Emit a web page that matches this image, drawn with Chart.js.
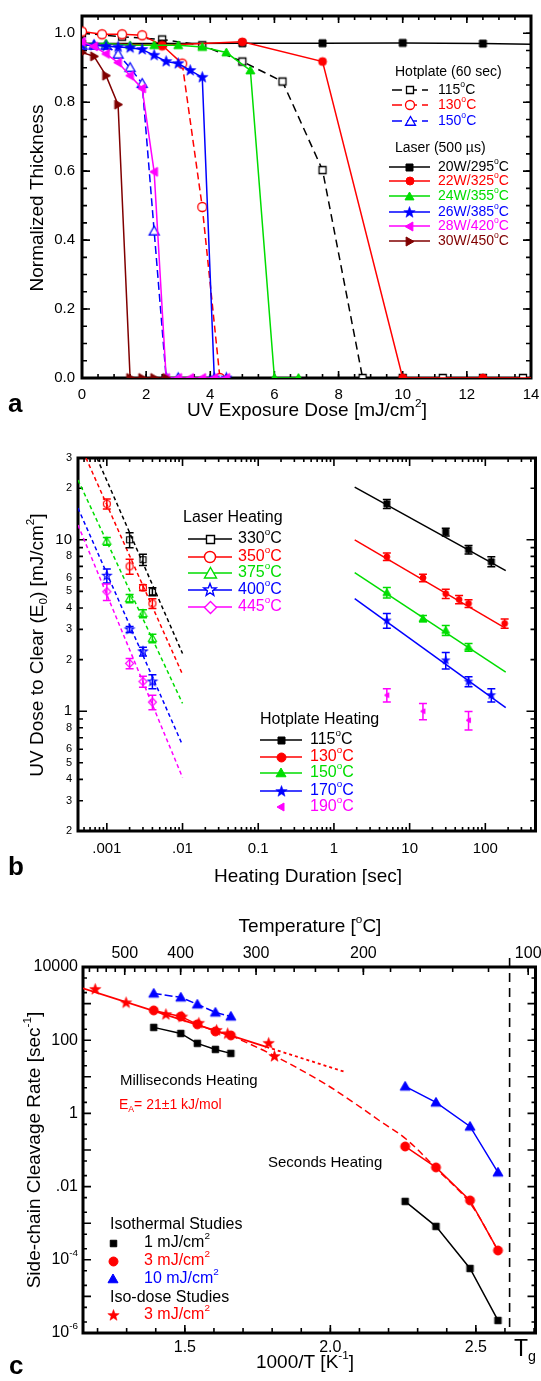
<!DOCTYPE html>
<html>
<head>
<meta charset="utf-8">
<title>Thickness, clearing dose and cleavage rate</title>
<script src="https://cdn.jsdelivr.net/npm/chart.js@4.4.1/dist/chart.umd.min.js"></script>
<style>
  html, body { margin: 0; padding: 0; background: #fff; }
  body { width: 541px; height: 1381px; position: relative; overflow: hidden; }
  canvas { position: absolute; left: 0; }
</style>
</head>
<body>
<canvas id="chartA" width="541" height="430" style="top:0px"></canvas>
<canvas id="chartB" width="541" height="455" style="top:430px"></canvas>
<canvas id="chartC" width="541" height="496" style="top:885px"></canvas>
<script>
// ---------- panel a : normalized thickness vs UV dose ----------
const hp115Dose = [0, 1.25, 2.5, 3.75, 5, 6.25, 7.5, 8.75, 10, 11.25, 12.5, 13.75];
const hp115Thick = [1.0, 0.99, 0.982, 0.965, 0.918, 0.86, 0.603, 0, 0, 0, 0, 0];
const hp130Dose = [0, 0.625, 1.25, 1.875, 2.5, 3.125, 3.75, 4.3];
const hp130Thick = [1.005, 0.997, 0.997, 0.994, 0.965, 0.912, 0.496, 0];
const hp150Dose = [0, 0.375, 0.75, 1.125, 1.5, 1.875, 2.25, 2.625, 3.0];
const hp150Thick = [0.965, 0.965, 0.965, 0.939, 0.9, 0.854, 0.426, 0, 0];
const l20Dose = [0, 2.5, 5, 7.5, 10, 12.5, 14];
const l20Thick = [0.97, 0.97, 0.971, 0.971, 0.972, 0.97, 0.968];
const l22Dose = [0, 2.5, 5, 7.5, 10, 12.5, 14];
const l22Thick = [0.97, 0.965, 0.975, 0.918, 0, 0, 0];
const l24Dose = [0, 0.75, 1.5, 2.25, 3, 3.75, 4.5, 5.25, 6, 6.75];
const l24Thick = [0.97, 0.97, 0.965, 0.965, 0.965, 0.96, 0.944, 0.892, 0, 0];
const l26Dose = [0, 0.375, 0.75, 1.125, 1.5, 1.875, 2.25, 2.625, 3.0, 3.375, 3.75, 4.125, 4.5];
const l26Thick = [0.965, 0.965, 0.962, 0.96, 0.958, 0.953, 0.936, 0.918, 0.912, 0.892, 0.872, 0, 0];
const l28Dose = [0, 0.375, 0.75, 1.125, 1.5, 1.875, 2.25, 2.625, 3.0, 3.375, 3.75, 4.125, 4.5];
const l28Thick = [0.975, 0.962, 0.94, 0.915, 0.877, 0.84, 0.598, 0, 0, 0, 0, 0, 0];
const l30Dose = [0, 0.375, 0.75, 1.125, 1.5, 1.875, 2.25, 2.625];
const l30Thick = [0.944, 0.933, 0.877, 0.793, 0, 0, 0, 0];
const hotplateLabelsA = ['115', '130', '150'];
const laserLabelsA = ['20W/295', '22W/325', '24W/355', '26W/385', '28W/420', '30W/450'];
const doseTicks = [0, 2, 4, 6, 8, 10, 12, 14];
const thickTicks = [0, 0.2, 0.4, 0.6, 0.8, 1.0];

// ---------- panel b : dose to clear vs heating time ----------
const l330Time = [0.002, 0.003, 0.004];
const l330E = [10, 7.65, 4.98];
const l330Err = [1.0, 0.58, 0.27];
const l350Time = [0.001, 0.002, 0.003, 0.004];
const l350E = [16.2, 7.0, 5.26, 4.25];
const l350Err = [1.1, 0.7, 0.2, 0.28];
const l375Time = [0.001, 0.002, 0.003, 0.004];
const l375E = [9.8, 4.54, 3.71, 2.66];
const l375Err = [0.5, 0.25, 0.2, 0.15];
const l400Time = [0.001, 0.002, 0.003, 0.004];
const l400E = [6.17, 3.0, 2.23, 1.49];
const l400Err = [0.58, 0.12, 0.13, 0.14];
const l445Time = [0.001, 0.002, 0.003, 0.004];
const l445E = [4.98, 1.9, 1.49, 1.13];
const l445Err = [0.55, 0.13, 0.11, 0.11];
const h115Time = [5, 30, 60, 120];
const h115E = [16.2, 11.1, 8.76, 7.45];
const h115Err = [1.0, 0.58, 0.5, 0.5];
const h130Time = [5, 15, 30, 45, 60, 180];
const h130E = [7.96, 6.0, 4.85, 4.48, 4.25, 3.25];
const h130Err = [0.4, 0.3, 0.3, 0.25, 0.22, 0.2];
const h150Time = [5, 15, 30, 60];
const h150E = [4.92, 3.47, 2.96, 2.36];
const h150Err = [0.35, 0.15, 0.2, 0.12];
const h170Time = [5, 30, 60, 120];
const h170E = [3.38, 1.98, 1.49, 1.24];
const h170Err = [0.33, 0.22, 0.1, 0.11];
const h190Time = [5, 15, 60];
const h190E = [1.24, 1.0, 0.886];
const h190Err = [0.11, 0.11, 0.11];
// straight fits, two end points each
const laserFitTime = [[0.00074, 0.01], [0.00053, 0.01], [0.000416, 0.01], [0.000416, 0.01], [0.000416, 0.01]];
const laserFitE = [[30, 2.17], [30, 1.64], [22.3, 1.11], [15.3, 0.634], [12.2, 0.41]];
const hotFitTime = [1.88, 186];
const hotFitE = [[20.3, 6.6], [10, 3.04], [6.44, 1.69], [4.54, 1.05]];
const laserLabelsB = ['330', '350', '375', '400', '445'];
const hotLabelsB = ['115', '130', '150', '170', '190'];
const timeTicks = [0.001, 0.01, 0.1, 1, 10, 100];
const timeTickLabels = ['.001', '.01', '0.1', '1', '10', '100'];
const clearTicks = [0.2, 0.3, 0.4, 0.5, 0.6, 0.8, 1, 2, 3, 4, 5, 6, 8, 10, 20, 30];
const clearTickLabels = ['2', '3', '4', '5', '6', '8', '1', '2', '3', '4', '5', '6', '8', '10', '2', '3'];

// ---------- panel c : cleavage rate vs 1000/T ----------
const msInvT = [1.393, 1.486, 1.543, 1.605, 1.658];
const secInvT = [2.257, 2.363, 2.48, 2.576];
const ms1Rate = [224, 153, 82, 56, 43.6];
const sec1Rate = [0.00394, 0.000818, 5.8e-5, 2.2e-6];
const ms3Rate = [652, 446, 271, 174, 135];
const sec3Rate = [0.125, 0.0335, 0.0042, 1.8e-4];
const ms10Rate = [1900, 1480, 955, 575, 446];
const sec10Rate = [5.47, 2.0, 0.44, 0.0245];
const isoInvT = [1.192, 1.298, 1.435, 1.49, 1.548, 1.609, 1.647, 1.788, 1.808];
const isoRate = [2440, 1050, 500, 430, 290, 185, 150, 82, 36];
const fitInvT = [1.15, 1.78, 2.055];
const fitRate = [2600, 65.6, 13.2];
const modelInvT = [1.658, 1.79, 1.962, 2.075, 2.168, 2.26, 2.366, 2.48, 2.576];
const modelRate = [135, 44, 8, 2.1, 0.64, 0.2, 0.03, 0.0035, 1.8e-4];
const tgInvT = 2.616;
const invTTicks = [1.5, 2.0, 2.5];
const tempTicks = [500, 400, 300, 200, 100];
const rateTicks = [1e-6, 1e-4, 1e-2, 1, 100, 10000];
// null entries are powers of ten drawn with a raised exponent
const rateTickLabels = [null, null, '.01', '1', '100', '10000'];
const rateTickExp = ['-6', '-4', null, null, null, null];

const FONT = "'Liberation Sans', Arial, 'DejaVu Sans', sans-serif";
const BLACK = '#000000', RED = '#ff0000', GREEN = '#00dd00', BLUE = '#0000ff', MAGENTA = '#ff00ff', MAROON = '#800000';
Chart.defaults.font.family = FONT;
Chart.defaults.color = BLACK;

const pts = (xs, ys) => xs.map((x, i) => ({ x: x, y: ys[i] }));

function steps(a, b, d) {
  const out = [];
  for (let v = a; v <= b + 1e-9; v += d) out.push(Math.round(v * 1000) / 1000);
  return out;
}
function logSteps(e0, e1, mults) {
  const out = [];
  for (let e = e0; e <= e1; e++) mults.forEach(m => out.push(Number((m * Math.pow(10, e)).toPrecision(6))));
  return out;
}
const toInv = T => 1000 / (T + 273.15);

// small marker images used as point styles
function marker(shape, size, stroke, fill, lw) {
  const c = document.createElement('canvas');
  const s = Math.ceil(size + lw * 2 + 2);
  c.width = c.height = s;
  const g = c.getContext('2d');
  const m = s / 2, r = size / 2;
  g.beginPath();
  if (shape === 'square') g.rect(m - r, m - r, size, size);
  else if (shape === 'circle') g.arc(m, m, r, 0, Math.PI * 2);
  else if (shape === 'up') { g.moveTo(m, m - r); g.lineTo(m + r, m + r * 0.75); g.lineTo(m - r, m + r * 0.75); g.closePath(); }
  else if (shape === 'left') { g.moveTo(m - r, m); g.lineTo(m + r * 0.75, m - r); g.lineTo(m + r * 0.75, m + r); g.closePath(); }
  else if (shape === 'right') { g.moveTo(m + r, m); g.lineTo(m - r * 0.75, m - r); g.lineTo(m - r * 0.75, m + r); g.closePath(); }
  else if (shape === 'diamond') { g.moveTo(m, m - r); g.lineTo(m + r, m); g.lineTo(m, m + r); g.lineTo(m - r, m); g.closePath(); }
  else if (shape === 'star') {
    for (let i = 0; i < 10; i++) {
      const a = -Math.PI / 2 + i * Math.PI / 5;
      const rr = i % 2 ? r * 0.42 : r;
      g.lineTo(m + rr * Math.cos(a), m + rr * Math.sin(a));
    }
    g.closePath();
  }
  if (fill) { g.fillStyle = fill; g.fill(); }
  if (lw) { g.lineWidth = lw; g.strokeStyle = stroke; g.stroke(); }
  return c;
}

// text with super/subscripts; parts are strings or [text, 'sup'|'sub']
function richText(ctx, parts, x, y, size, color, align, rotate, bold) {
  ctx.save();
  ctx.translate(x, y);
  if (rotate) ctx.rotate(-Math.PI / 2);
  ctx.fillStyle = color;
  ctx.textBaseline = 'middle';
  ctx.textAlign = 'left';
  let w = 0;
  const items = parts.map(p => {
    const t = typeof p === 'string' ? p : p[0];
    const mode = typeof p === 'string' ? '' : p[1];
    const fs = mode ? size * 0.62 : size;
    ctx.font = (bold ? 'bold ' : '') + fs + 'px ' + FONT;
    const width = ctx.measureText(t).width;
    w += width;
    return { t, mode, fs, width };
  });
  let cx = align === 'center' ? -w / 2 : align === 'right' ? -w : 0;
  items.forEach(o => {
    ctx.font = (bold ? 'bold ' : '') + o.fs + 'px ' + FONT;
    const dy = o.mode === 'sup' ? -size * 0.4 : o.mode === 'sub' ? size * 0.3 : 0;
    ctx.fillText(o.t, cx, dy);
    cx += o.width;
  });
  ctx.restore();
}
const degC = s => [s, ['o', 'sup'], 'C'];

function legendRow(ctx, y, x1, x2, color, mk, dash, textX, parts, size) {
  ctx.save();
  ctx.strokeStyle = color;
  ctx.lineWidth = 1.5;
  ctx.setLineDash(dash || []);
  if (x2 > x1) { ctx.beginPath(); ctx.moveTo(x1, y); ctx.lineTo(x2, y); ctx.stroke(); }
  ctx.setLineDash([]);
  if (mk) ctx.drawImage(mk, Math.round((x1 + x2) / 2 - mk.width / 2), Math.round(y - mk.height / 2));
  ctx.restore();
  richText(ctx, parts, textX, y, size, color, 'left');
}

// fixes axis box sizes so the plot frame lands where the reference has it
function fitTo(size) {
  return function (s) {
    if (s.isHorizontal()) s.height = size; else s.width = size;
    s.paddingLeft = s.paddingRight = s.paddingTop = s.paddingBottom = 0;
  };
}

// frame and inward tick marks
function frameTicks(specs) {
  return {
    id: 'frameTicks',
    beforeDatasetsDraw(chart) {
      const { ctx, chartArea: a } = chart;
      ctx.save();
      ctx.strokeStyle = BLACK;
      ctx.lineWidth = 1.6;
      specs.forEach(t => {
        const s = chart.scales[t.scale];
        t.values.forEach(v => {
          if (v < s.min - 1e-9 || v > s.max + 1e-9) return;
          const p = s.getPixelForValue(v);
          ctx.beginPath();
          t.sides.forEach(side => {
            if (side === 'bottom') { ctx.moveTo(p, a.bottom); ctx.lineTo(p, a.bottom - t.len); }
            if (side === 'top') { ctx.moveTo(p, a.top); ctx.lineTo(p, a.top + t.len); }
            if (side === 'left') { ctx.moveTo(a.left, p); ctx.lineTo(a.left + t.len, p); }
            if (side === 'right') { ctx.moveTo(a.right, p); ctx.lineTo(a.right - t.len, p); }
          });
          ctx.stroke();
        });
      });
      ctx.lineWidth = 3;
      ctx.strokeRect(a.left, a.top, a.right - a.left, a.bottom - a.top);
      ctx.restore();
    }
  };
}

const errorBars = {
  id: 'errorBars',
  afterDatasetsDraw(chart) {
    const { ctx } = chart;
    const xs = chart.scales.x, ys = chart.scales.y;
    chart.data.datasets.forEach(ds => {
      if (!ds.errors) return;
      ctx.save();
      ctx.strokeStyle = ds.borderColor;
      ctx.lineWidth = 1.5;
      ds.data.forEach((p, i) => {
        const e = ds.errors[i];
        const px = xs.getPixelForValue(p.x);
        const y1 = ys.getPixelForValue(p.y + e), y2 = ys.getPixelForValue(p.y - e);
        ctx.beginPath();
        ctx.moveTo(px, y1); ctx.lineTo(px, y2);
        ctx.moveTo(px - 4, y1); ctx.lineTo(px + 4, y1);
        ctx.moveTo(px - 4, y2); ctx.lineTo(px + 4, y2);
        ctx.stroke();
      });
      ctx.restore();
    });
  }
};

function series(xs, ys, color, mk, extra) {
  return Object.assign({
    data: pts(xs, ys),
    showLine: true,
    borderColor: color,
    backgroundColor: color,
    borderWidth: 1.5,
    pointStyle: mk,
    pointRadius: 4,
    tension: 0
  }, extra);
}
const tickFont = size => ({ family: FONT, size: size });
const baseAxis = extra => Object.assign({
  grid: { display: false, drawTicks: false },
  border: { display: false }
}, extra);
const baseOptions = (padTop, padRight, scales) => ({
  responsive: false,
  animation: false,
  events: [],
  layout: { padding: { top: padTop, right: padRight, left: 0, bottom: 0 } },
  plugins: { legend: { display: false }, tooltip: { enabled: false } },
  scales: scales
});

// ================= chart a =================
const mkA = {
  hp115: marker('square', 7, BLACK, '#fff', 1.3),
  hp130: marker('circle', 9, RED, '#fff', 1.3),
  hp150: marker('up', 10, BLUE, '#fff', 1.3),
  l20: marker('square', 7, BLACK, BLACK, 1),
  l22: marker('circle', 8, RED, RED, 1),
  l24: marker('up', 9, GREEN, GREEN, 1),
  l26: marker('star', 12, BLUE, BLUE, 0.5),
  l28: marker('left', 9, MAGENTA, MAGENTA, 1),
  l30: marker('right', 9, MAROON, MAROON, 1)
};
const hideLast = n => (c => c.dataIndex === n - 1 ? 0 : 4);

new Chart(document.getElementById('chartA'), {
  type: 'scatter',
  data: {
    datasets: [
      series(l30Dose, l30Thick, MAROON, mkA.l30),
      series(l28Dose, l28Thick, MAGENTA, mkA.l28),
      series(l26Dose, l26Thick, BLUE, mkA.l26),
      series(l24Dose, l24Thick, GREEN, mkA.l24),
      series(l22Dose, l22Thick, RED, mkA.l22, { pointRadius: hideLast(l22Dose.length) }),
      series(l20Dose, l20Thick, BLACK, mkA.l20, { pointRadius: hideLast(l20Dose.length) }),
      series(hp150Dose, hp150Thick, BLUE, mkA.hp150, { borderDash: [8, 4] }),
      series(hp130Dose, hp130Thick, RED, mkA.hp130, {
        segment: { borderDash: c => c.p0.parsed.x >= 3.1 ? [7, 4] : [] }
      }),
      series(hp115Dose, hp115Thick, BLACK, mkA.hp115, { borderDash: [8, 5] })
    ]
  },
  options: baseOptions(16, 10, {
    x: baseAxis({
      type: 'linear', min: 0, max: 14,
      afterFit: fitTo(52),
      afterBuildTicks: s => { s.ticks = doseTicks.map(v => ({ value: v })); },
      ticks: { autoSkip: false, maxRotation: 0, padding: 8, font: tickFont(15), callback: v => String(v) }
    }),
    y: baseAxis({
      type: 'linear', min: 0, max: 1.05,
      afterFit: fitTo(82),
      afterBuildTicks: s => { s.ticks = thickTicks.map(v => ({ value: v })); },
      ticks: { autoSkip: false, padding: 7, font: tickFont(15), callback: v => v.toFixed(1) }
    })
  }),
  plugins: [
    frameTicks([
      { scale: 'x', values: doseTicks, len: 7, sides: ['bottom', 'top'] },
      { scale: 'x', values: steps(0, 14, 0.5), len: 4, sides: ['bottom', 'top'] },
      { scale: 'y', values: thickTicks, len: 8, sides: ['left', 'right'] },
      { scale: 'y', values: steps(0, 1.05, 0.05), len: 5, sides: ['left', 'right'] }
    ]),
    {
      id: 'decorA',
      afterDraw(chart) {
        const ctx = chart.ctx;
        richText(ctx, ['Normalized Thickness'], 38, 198, 19, BLACK, 'center', true);
        richText(ctx, ['UV Exposure Dose [mJ/cm', ['2', 'sup'], ']'], 307, 411, 19, BLACK, 'center');
        richText(ctx, ['a'], 8, 405, 26, BLACK, 'left', false, true);
        richText(ctx, ['Hotplate (60 sec)'], 395, 72, 14, BLACK, 'left');
        const hpCols = [BLACK, RED, BLUE], hpMk = [mkA.hp115, mkA.hp130, mkA.hp150], hpY = [90, 105, 121];
        hotplateLabelsA.forEach((t, i) => legendRow(ctx, hpY[i], 392, 428, hpCols[i], hpMk[i], [10, 5], 438, degC(t), 14));
        richText(ctx, ['Laser (500 \u00B5s)'], 395, 148, 14, BLACK, 'left');
        const lCols = [BLACK, RED, GREEN, BLUE, MAGENTA, MAROON];
        const lMk = [mkA.l20, mkA.l22, mkA.l24, mkA.l26, mkA.l28, mkA.l30];
        const lY = [167, 181, 196, 212, 226, 241];
        laserLabelsA.forEach((t, i) => legendRow(ctx, lY[i], 389, 430, lCols[i], lMk[i], null, 438, degC(t), 14));
      }
    }
  ]
});

// ================= chart b =================
const lCol = [BLACK, RED, GREEN, BLUE, MAGENTA];
const lMkB = [marker('square', 6, BLACK, '#fff', 1.2), marker('circle', 7, RED, '#fff', 1.2), marker('up', 8, GREEN, '#fff', 1.2),
  marker('star', 9, BLUE, '#fff', 1.2), marker('diamond', 8, MAGENTA, '#fff', 1.2)];
const lMkLeg = [marker('square', 8, BLACK, '#fff', 1.4), marker('circle', 11, RED, '#fff', 1.4), marker('up', 12, GREEN, '#fff', 1.4),
  marker('star', 13, BLUE, '#fff', 1.4), marker('diamond', 12, MAGENTA, '#fff', 1.4)];
const hMkB = [marker('square', 6, BLACK, BLACK, 1), marker('circle', 6, RED, RED, 1), marker('up', 8, GREEN, GREEN, 1),
  marker('star', 9, BLUE, BLUE, 0.5), marker('left', 5, MAGENTA, MAGENTA, 1)];
const hMkLeg = [marker('square', 7, BLACK, BLACK, 1), marker('circle', 9, RED, RED, 1), marker('up', 10, GREEN, GREEN, 1),
  marker('star', 12, BLUE, BLUE, 0.5), marker('left', 8, MAGENTA, MAGENTA, 1)];
const laserPts = [[l330Time, l330E, l330Err], [l350Time, l350E, l350Err], [l375Time, l375E, l375Err],
  [l400Time, l400E, l400Err], [l445Time, l445E, l445Err]];
const hotPts = [[h115Time, h115E, h115Err], [h130Time, h130E, h130Err], [h150Time, h150E, h150Err],
  [h170Time, h170E, h170Err], [h190Time, h190E, h190Err]];
const dsB = [];
laserFitTime.forEach((t, i) => dsB.push(series(t, laserFitE[i], lCol[i], 'circle', { pointRadius: 0, borderDash: [4, 3] })));
hotFitE.forEach((e, i) => dsB.push(series(hotFitTime, e, lCol[i], 'circle', { pointRadius: 0 })));
laserPts.forEach((p, i) => dsB.push(series(p[0], p[1], lCol[i], lMkB[i], { showLine: false, errors: p[2] })));
hotPts.forEach((p, i) => dsB.push(series(p[0], p[1], lCol[i], hMkB[i], { showLine: false, errors: p[2] })));

new Chart(document.getElementById('chartB'), {
  type: 'scatter',
  data: { datasets: dsB },
  options: baseOptions(28, 3, {
    x: baseAxis({
      type: 'logarithmic', min: 0.000416, max: 460,
      afterFit: fitTo(54),
      afterBuildTicks: s => { s.ticks = timeTicks.map(v => ({ value: v })); },
      ticks: { autoSkip: false, maxRotation: 0, padding: 9, font: tickFont(15), callback: (v, i) => timeTickLabels[i] }
    }),
    y: baseAxis({
      type: 'logarithmic', min: 0.2, max: 30,
      afterFit: fitTo(78),
      afterBuildTicks: s => { s.ticks = clearTicks.map(v => ({ value: v })); },
      ticks: {
        autoSkip: false, padding: 6,
        font: c => tickFont(c.tick && (c.tick.value === 1 || c.tick.value === 10) ? 15 : 11),
        callback: (v, i) => clearTickLabels[i]
      }
    })
  }),
  plugins: [
    frameTicks([
      { scale: 'x', values: logSteps(-4, 2, [1]), len: 8, sides: ['bottom', 'top'] },
      { scale: 'x', values: logSteps(-4, 2, [2, 3, 4, 5, 6, 7, 8, 9]), len: 4, sides: ['bottom', 'top'] },
      { scale: 'y', values: [1, 10], len: 9, sides: ['left', 'right'] },
      { scale: 'y', values: logSteps(-1, 1, [2, 3, 4, 5, 6, 7, 8, 9]), len: 5, sides: ['left', 'right'] }
    ]),
    errorBars,
    {
      id: 'decorB',
      afterDraw(chart) {
        const ctx = chart.ctx, o = 430;
        richText(ctx, ['UV Dose to Clear (E', ['0', 'sub'], ') [mJ/cm', ['2', 'sup'], ']'], 38, 645 - o, 19, BLACK, 'center', true);
        richText(ctx, ['Heating Duration [sec]'], 308, 877 - o, 19, BLACK, 'center');
        richText(ctx, ['b'], 8, 868 - o, 26, BLACK, 'left', false, true);
        richText(ctx, ['Laser Heating'], 183, 518 - o, 16, BLACK, 'left');
        const ly = [539, 557, 573, 590, 607];
        laserLabelsB.forEach((t, i) => legendRow(ctx, ly[i] - o, 188, 232, lCol[i], lMkLeg[i], null, 238, degC(t), 16));
        richText(ctx, ['Hotplate Heating'], 260, 720 - o, 16, BLACK, 'left');
        const hy = [740, 757, 773, 791, 807];
        hotLabelsB.forEach((t, i) => {
          const noLine = i === 4;
          legendRow(ctx, hy[i] - o, noLine ? 281 : 260, noLine ? 281 : 302, lCol[i], hMkLeg[i], null, 310, degC(t), 16);
        });
      }
    }
  ]
});

// ================= chart c =================
const mkC = {
  sq: marker('square', 6.5, BLACK, BLACK, 1),
  ci: marker('circle', 9, RED, RED, 1),
  tr: marker('up', 10, BLUE, BLUE, 1),
  st: marker('star', 12, RED, RED, 0.5)
};
new Chart(document.getElementById('chartC'), {
  type: 'scatter',
  data: {
    datasets: [
      series(isoInvT, isoRate, RED, mkC.st, { showLine: false }),
      series(msInvT, ms1Rate, BLACK, mkC.sq),
      series(secInvT, sec1Rate, BLACK, mkC.sq),
      series(msInvT, ms3Rate, RED, mkC.ci),
      series(secInvT, sec3Rate, RED, mkC.ci),
      series(msInvT, ms10Rate, BLUE, mkC.tr, { borderDash: [8, 3] }),
      series(secInvT, sec10Rate, BLUE, mkC.tr),
      series(fitInvT, fitRate, RED, 'circle', {
        pointRadius: 0, borderWidth: 1.8,
        segment: { borderDash: c => c.p0DataIndex >= 1 ? [3, 3] : [] }
      }),
      series(modelInvT, modelRate, RED, 'circle', { pointRadius: 0, borderDash: [7, 4], tension: 0.35 })
    ]
  },
  options: baseOptions(0, 4, {
    x: baseAxis({
      type: 'linear', min: 1.15, max: 2.705,
      afterFit: fitTo(48),
      afterBuildTicks: s => { s.ticks = invTTicks.map(v => ({ value: v })); },
      ticks: { autoSkip: false, maxRotation: 0, padding: 5, font: tickFont(16), callback: v => v.toFixed(1) }
    }),
    xTop: baseAxis({
      type: 'linear', position: 'top', min: 1.15, max: 2.705,
      afterFit: fitTo(82),
      afterBuildTicks: s => { s.ticks = tempTicks.map(T => ({ value: toInv(T) })); },
      ticks: { autoSkip: false, maxRotation: 0, padding: 4, font: tickFont(16), callback: (v, i) => String(tempTicks[i]) }
    }),
    y: baseAxis({
      type: 'logarithmic', min: 1e-6, max: 1e4,
      afterFit: fitTo(83),
      afterBuildTicks: s => { s.ticks = rateTicks.map(v => ({ value: v })); },
      ticks: { autoSkip: false, padding: 5, font: tickFont(16), callback: (v, i) => rateTickLabels[i] || '' }
    })
  }),
  plugins: [
    frameTicks([
      { scale: 'x', values: invTTicks, len: 8, sides: ['bottom'] },
      { scale: 'x', values: steps(1.2, 2.7, 0.1), len: 5, sides: ['bottom'] },
      { scale: 'xTop', values: tempTicks.map(toInv), len: 8, sides: ['top'] },
      { scale: 'xTop', values: steps(100, 580, 20).map(toInv), len: 5, sides: ['top'] },
      { scale: 'y', values: logSteps(-6, 4, [1]), len: 8, sides: ['left', 'right'] },
      { scale: 'y', values: logSteps(-6, 3, [2, 5]), len: 4, sides: ['left', 'right'] }
    ]),
    {
      id: 'decorC',
      afterDraw(chart) {
        const ctx = chart.ctx, o = 885, a = chart.chartArea;
        const ys = chart.scales.y;
        rateTicks.forEach((v, i) => {
          if (!rateTickExp[i]) return;
          richText(ctx, ['10', [rateTickExp[i], 'sup']], a.left - 5, ys.getPixelForValue(v), 16, BLACK, 'right');
        });
        const tx = chart.scales.x.getPixelForValue(tgInvT);
        ctx.save();
        ctx.strokeStyle = BLACK; ctx.lineWidth = 1.6; ctx.setLineDash([9, 6]);
        ctx.beginPath(); ctx.moveTo(tx, a.top - 9); ctx.lineTo(tx, a.bottom); ctx.stroke();
        ctx.restore();
        richText(ctx, ['Side-chain Cleavage Rate [sec', ['-1', 'sup'], ']'], 35, 1150 - o, 19, BLACK, 'center', true);
        richText(ctx, ['1000/T [K', ['-1', 'sup'], ']'], 305, 1363 - o, 19, BLACK, 'center');
        richText(ctx, ['Temperature [', ['o', 'sup'], 'C]'], 310, 927 - o, 19, BLACK, 'center');
        richText(ctx, ['T', ['g', 'sub']], 514, 1350 - o, 23, BLACK, 'left');
        richText(ctx, ['c'], 9, 1367 - o, 26, BLACK, 'left', false, true);
        richText(ctx, ['Milliseconds Heating'], 120, 1081 - o, 15, BLACK, 'left');
        richText(ctx, ['E', ['A', 'sub'], '= 21\u00B11 kJ/mol'], 119, 1105 - o, 14, RED, 'left');
        richText(ctx, ['Seconds Heating'], 268, 1163 - o, 15, BLACK, 'left');
        richText(ctx, ['Isothermal Studies'], 110, 1225 - o, 16, BLACK, 'left');
        legendRow(ctx, 1243 - o, 113, 113, BLACK, mkC.sq, null, 144, ['1 mJ/cm', ['2', 'sup']], 16);
        legendRow(ctx, 1261 - o, 113, 113, RED, mkC.ci, null, 144, ['3 mJ/cm', ['2', 'sup']], 16);
        legendRow(ctx, 1279 - o, 113, 113, BLUE, mkC.tr, null, 144, ['10 mJ/cm', ['2', 'sup']], 16);
        richText(ctx, ['Iso-dose Studies'], 110, 1298 - o, 16, BLACK, 'left');
        legendRow(ctx, 1315 - o, 113, 113, RED, mkC.st, null, 144, ['3 mJ/cm', ['2', 'sup']], 16);
      }
    }
  ]
});
</script>
</body>
</html>
